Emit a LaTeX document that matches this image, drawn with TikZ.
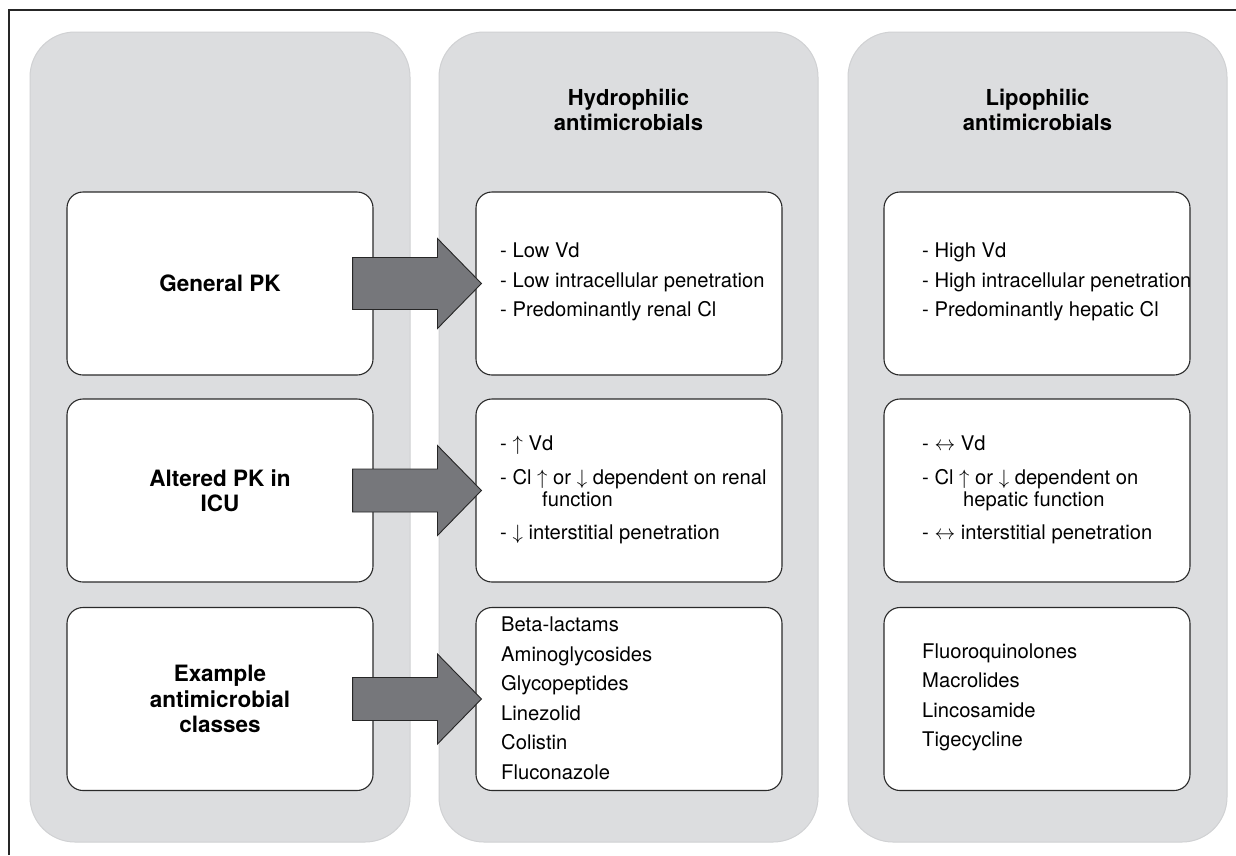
\documentclass[tikz,border=0pt]{standalone}
\usepackage{fontspec}
\setmainfont{TeX Gyre Heros}
\usetikzlibrary{calc}
\definecolor{panelgray}{HTML}{DCDDDF}
\definecolor{paneledge}{HTML}{D0D1D3}
\definecolor{arrowgray}{HTML}{76777B}
\definecolor{boxedge}{HTML}{2A2A2A}
\begin{document}
\begin{tikzpicture}[x=1pt,y=-1pt,
  panel/.style={draw=paneledge, line width=1pt, fill=panelgray, rounded corners=45pt},
  wbox/.style={draw=boxedge, line width=1.1pt, fill=white, rounded corners=16pt,
    minimum width=306pt, minimum height=183pt, inner sep=0pt, align=center,
    font=\fontsize{22.5}{25.5}\selectfont\bfseries},
  body/.style={anchor=west, align=left, inner sep=0pt, font=\fontsize{20.2}{29.5}\selectfont},
  head/.style={align=center, inner sep=0pt, font=\fontsize{22}{25}\selectfont\bfseries},
  blockarrow/.style={fill=arrowgray, draw=black!85, line width=0.9pt, line join=miter}]
\useasboundingbox (0,0) rectangle (1236,855);
\fill[white] (0,0) rectangle (1236,855);
% frame (top and left edges)
\draw[line width=1.6pt, black!85] (9,855) -- (9,10) -- (1236,10);
% panels
\draw[panel] (30,32) rectangle (410,842);
\draw[panel] (439,32) rectangle (818,842);
\draw[panel] (848,32) rectangle (1227,842);
% headings
\node[head] (h2) at (628.5,110) {Hydrophilic\\antimicrobials};
\node[head] (h3) at (1037.5,110) {Lipophilic\\antimicrobials};
% left boxes
\node[wbox] (l1) at (220,283.5) {General PK};
\node[wbox] (l2) at (220,490.5) {Altered PK in\\ICU};
\node[wbox] (l3) at (220,699) {Example\\antimicrobial\\classes};
% middle boxes
\node[wbox] (m1) at (629,283.5) {};
\node[wbox] (m2) at (629,490.5) {};
\node[wbox] (m3) at (629,699) {};
% right boxes
\node[wbox] (r1) at (1037,283.5) {};
\node[wbox] (r2) at (1037,490.5) {};
\node[wbox] (r3) at (1037,699) {};
% block arrows
\draw[blockarrow] ($(l1.east)+(-21,-26)$) -- ($(m1.west)+(-38,-26)$) -- ($(m1.west)+(-38,-45)$)
  -- ($(m1.west)+(6,0)$) -- ($(m1.west)+(-38,45)$) -- ($(m1.west)+(-38,26)$)
  -- ($(l1.east)+(-21,26)$) -- cycle;
\draw[blockarrow] ($(l2.east)+(-21,-21.5)$) -- ($(m2.west)+(-38,-21.5)$) -- ($(m2.west)+(-38,-45)$)
  -- ($(m2.west)+(6,0)$) -- ($(m2.west)+(-38,45)$) -- ($(m2.west)+(-38,21.5)$)
  -- ($(l2.east)+(-21,21.5)$) -- cycle;
\draw[blockarrow] ($(l3.east)+(-21,-21.5)$) -- ($(m3.west)+(-38,-21.5)$) -- ($(m3.west)+(-38,-45)$)
  -- ($(m3.west)+(6,0)$) -- ($(m3.west)+(-38,45)$) -- ($(m3.west)+(-38,21.5)$)
  -- ($(l3.east)+(-21,21.5)$) -- cycle;
% middle texts
\node[body] (t1) at (500,282) {- Low Vd\\- Low intracellular penetration\\- Predominantly renal Cl};
\node[body, font=\fontsize{20.2}{22}\selectfont] (t2) at (500,490)
  {- $\uparrow$ Vd\\[12pt]- Cl $\uparrow$ or $\downarrow$ dependent on renal\\\hspace*{42pt}function\\[11pt]- $\downarrow$ interstitial penetration};
\node[body] (t3) at (501,698.5) {Beta-lactams\\Aminoglycosides\\Glycopeptides\\Linezolid\\Colistin\\Fluconazole};
% right texts
\node[body] (u1) at (922,282) {- High Vd\\- High intracellular penetration\\- Predominantly hepatic Cl};
\node[body, font=\fontsize{20.2}{22}\selectfont] (u2) at (922,490)
  {- $\leftrightarrow$ Vd\\[12pt]- Cl $\uparrow$ or $\downarrow$ dependent on\\\hspace*{41pt}hepatic function\\[11pt]- $\leftrightarrow$ interstitial penetration};
\node[body] (u3) at (922,697.5) {Fluoroquinolones\\Macrolides\\Lincosamide\\Tigecycline};
\end{tikzpicture}
\end{document}
